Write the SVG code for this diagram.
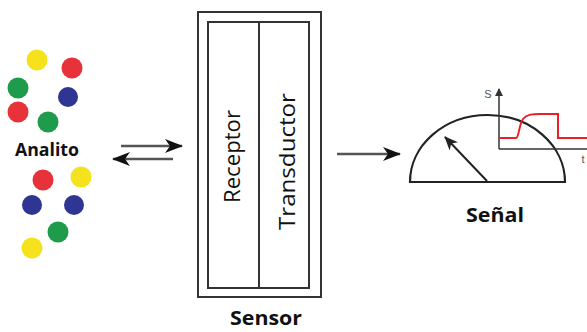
<svg xmlns="http://www.w3.org/2000/svg" width="587" height="332" viewBox="0 0 587 332">
  <defs>
    <marker id="head" viewBox="0 0 18 14" refX="17" refY="7" markerWidth="18" markerHeight="14" markerUnits="userSpaceOnUse" orient="auto">
      <path d="M0,0 L18,7 L0,14 L5,7 Z" fill="#111"/>
    </marker>
    <marker id="needle" viewBox="0 0 14 12" refX="13" refY="6" markerWidth="14" markerHeight="12" markerUnits="userSpaceOnUse" orient="auto">
      <path d="M0,0 L14,6 L0,12 L4,6 Z" fill="#222"/>
    </marker>
    <marker id="axis" viewBox="0 0 8 8" refX="7" refY="4" markerWidth="8" markerHeight="8" markerUnits="userSpaceOnUse" orient="auto">
      <path d="M0,0 L8,4 L0,8 Z" fill="#333"/>
    </marker>
  </defs>
  <style>
    .label { font-family: "Open Sans", "Liberation Sans", sans-serif; font-weight: 700; fill: #111; }
    .vlabel { font-family: "Open Sans", "Liberation Sans", sans-serif; font-weight: 400; fill: #111; font-size: 21px; }
    .small { font-family: "Liberation Sans", sans-serif; font-size: 11px; fill: #555; }
    .box { fill: none; stroke: #333; stroke-width: 2; }
    .flow { fill: none; stroke: #555; stroke-width: 2.5; }
    .dot { stroke: none; }
    .y { fill: #F5E21C; }
    .r { fill: #E8323A; }
    .g { fill: #1E9C4C; }
    .b { fill: #2E3592; }
  </style>

  <!-- Analyte particles -->
  <g id="analito">
    <circle class="dot y" cx="37" cy="60" r="10.5"/>
    <circle class="dot r" cx="72" cy="68" r="10.5"/>
    <circle class="dot g" cx="18" cy="88" r="10.5"/>
    <circle class="dot b" cx="68" cy="97" r="10"/>
    <circle class="dot r" cx="18" cy="112" r="10.5"/>
    <circle class="dot g" cx="48" cy="122" r="10.5"/>
    <text class="label" x="47" y="156" font-size="18" text-anchor="middle" textLength="64" lengthAdjust="spacingAndGlyphs">Analito</text>
    <circle class="dot r" cx="43" cy="180" r="10.5"/>
    <circle class="dot y" cx="81" cy="177" r="10.5"/>
    <circle class="dot b" cx="32" cy="205" r="10"/>
    <circle class="dot b" cx="74" cy="205" r="10"/>
    <circle class="dot g" cx="58" cy="232" r="10.5"/>
    <circle class="dot y" cx="32" cy="248" r="10.5"/>
  </g>

  <!-- Sensor: receptor + transducer -->
  <g id="sensor">
    <rect class="box" x="198" y="12" width="123" height="285"/>
    <rect class="box" x="208" y="22" width="101" height="266"/>
    <line class="box" x1="259" y1="22" x2="259" y2="288"/>
    <text class="label" x="266" y="325" font-size="19" text-anchor="middle" textLength="72" lengthAdjust="spacingAndGlyphs">Sensor</text>
  </g>
  <g id="receptor">
    <text class="vlabel" transform="translate(240,156.5) rotate(-90)" text-anchor="middle" textLength="93" lengthAdjust="spacingAndGlyphs">Receptor</text>
  </g>
  <g id="transductor">
    <text class="vlabel" transform="translate(295,161.5) rotate(-90)" text-anchor="middle" textLength="137" lengthAdjust="spacingAndGlyphs">Transductor</text>
  </g>

  <!-- Signal meter with response curve -->
  <g id="senal">
    <path d="M410,182 A77.5,67 0 0 1 565,182 Z" fill="none" stroke="#222" stroke-width="2.2"/>
    <line x1="487" y1="181" x2="445" y2="137" stroke="#222" stroke-width="2" marker-end="url(#needle)"/>
    <line x1="499" y1="149" x2="499" y2="89" stroke="#333" stroke-width="1.5" marker-end="url(#axis)"/>
    <line x1="499" y1="149" x2="587" y2="149" stroke="#333" stroke-width="1.5"/>
    <path d="M499,138 H516 C519,138 519,124 523,119 C527,114 533,114 540,114 H558 V138 H587" fill="none" stroke="#E8202A" stroke-width="2"/>
    <text class="small" x="488" y="98" text-anchor="middle">S</text>
    <text class="small" x="583" y="163" text-anchor="middle">t</text>
    <text class="label" x="495" y="222" font-size="20" text-anchor="middle" textLength="58" lengthAdjust="spacingAndGlyphs">Señal</text>
  </g>

  <!-- Connectors -->
  <g id="connectors">
    <line class="flow" x1="121" y1="146" x2="182" y2="146" marker-end="url(#head)"/>
    <line class="flow" x1="173" y1="159" x2="113" y2="159" marker-end="url(#head)"/>
    <line class="flow" x1="337" y1="154" x2="400" y2="154" stroke="#333" marker-end="url(#head)"/>
  </g>
</svg>
